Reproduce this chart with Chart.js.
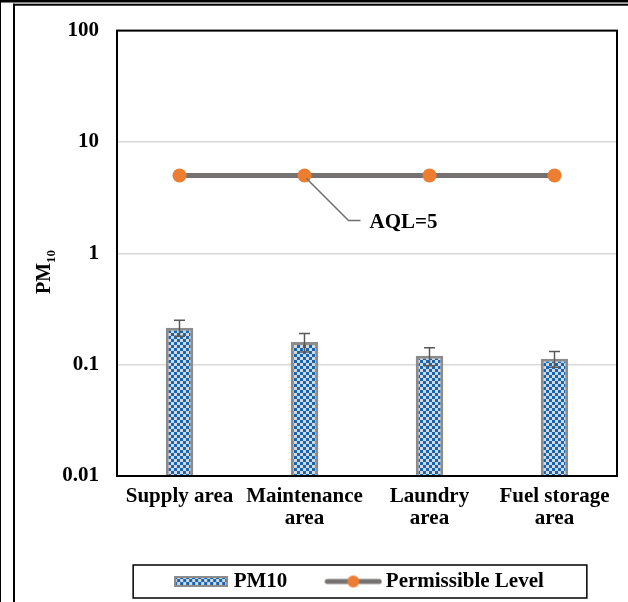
<!DOCTYPE html>
<html>
<head>
<meta charset="utf-8">
<script src="https://cdn.jsdelivr.net/npm/chart.js@4/dist/chart.umd.min.js"></script>
<style>
  html, body { margin: 0; padding: 0; background: #fff; }
  canvas { display: block; }
</style>
</head>
<body>
<canvas id="chart" width="628" height="602"></canvas>
<script>
// data
const categories = ['Supply area', ['Maintenance', 'area'], ['Laundry', 'area'], ['Fuel storage', 'area']];
const pm10Values = [0.215, 0.16, 0.12, 0.113];
const pm10Errors = [0.035, 0.03, 0.022, 0.018];
const permissibleLevel = [5, 5, 5, 5];
const yTickValues = [0.01, 0.1, 1, 10, 100];
const yTickLabels = ['0.01', '0.1', '1', '10', '100'];
const annotationText = 'AQL=5';

const FONT = "'Liberation Serif', 'Times New Roman', serif";
const BLUE = '#1565b5';
const LIGHT = '#d3d9df';
const BAR_EDGE = '#8c8c8c';
const LINE_GRAY = '#767171';
const ORANGE = '#ED7D31';

// checkerboard fill for the bars
function makeChecker() {
  const c = document.createElement('canvas');
  c.width = 6; c.height = 6;
  const g = c.getContext('2d');
  g.fillStyle = LIGHT; g.fillRect(0, 0, 6, 6);
  g.fillStyle = BLUE;
  g.fillRect(0, 0, 3, 3);
  g.fillRect(3, 3, 3, 3);
  return c;
}
const checkerTile = makeChecker();
const ctx = document.getElementById('chart').getContext('2d');
const checker = ctx.createPattern(checkerTile, 'repeat');

// legend swatches
function barSwatch() {
  const c = document.createElement('canvas');
  c.width = 54; c.height = 11;
  const g = c.getContext('2d');
  g.fillStyle = g.createPattern(checkerTile, 'repeat');
  g.fillRect(0, 0, 54, 11);
  g.strokeStyle = BAR_EDGE; g.lineWidth = 2;
  g.strokeRect(1, 1, 52, 9);
  return c;
}
function lineSwatch() {
  const c = document.createElement('canvas');
  c.width = 58; c.height = 16;
  const g = c.getContext('2d');
  g.strokeStyle = LINE_GRAY; g.lineWidth = 5; g.lineCap = 'round';
  g.beginPath(); g.moveTo(3, 8); g.lineTo(55, 8); g.stroke();
  g.fillStyle = ORANGE;
  g.beginPath(); g.arc(29, 8, 6, 0, Math.PI * 2); g.fill();
  return c;
}
const swatches = [barSwatch(), lineSwatch()];

Chart.defaults.font.family = FONT;
Chart.defaults.font.size = 21;
Chart.defaults.font.weight = 'bold';
Chart.defaults.color = '#000';

const LEGEND_SHIFT = 53;

const errorBars = {
  id: 'errorBars',
  afterDatasetsDraw(chart) {
    const y = chart.scales.y;
    const meta = chart.getDatasetMeta(0);
    const c = chart.ctx;
    c.save();
    c.strokeStyle = '#595959';
    c.lineWidth = 1.5;
    meta.data.forEach((bar, i) => {
      const top = y.getPixelForValue(pm10Values[i] + pm10Errors[i]);
      const bot = y.getPixelForValue(pm10Values[i] - pm10Errors[i]);
      c.beginPath();
      c.moveTo(bar.x, top); c.lineTo(bar.x, bot);
      c.moveTo(bar.x - 5.5, top); c.lineTo(bar.x + 5.5, top);
      c.moveTo(bar.x - 5.5, bot); c.lineTo(bar.x + 5.5, bot);
      c.stroke();
    });
    c.restore();
  }
};

const decorations = {
  id: 'decorations',
  afterLayout(chart) {
    // move the legend row to sit under the plot like the original
    const lg = chart.legend;
    lg.left += LEGEND_SHIFT;
    lg.right += LEGEND_SHIFT;
    (lg.legendHitBoxes || []).forEach(h => { h.left += LEGEND_SHIFT; });
  },
  afterDraw(chart) {
    const c = chart.ctx;
    const a = chart.chartArea;
    c.save();
    // plot frame
    c.strokeStyle = '#000';
    c.lineWidth = 2;
    c.strokeRect(a.left, a.top, a.right - a.left, a.bottom - a.top);

    // leader line + label to the second marker
    const p = chart.getDatasetMeta(1).data[1];
    c.strokeStyle = '#6e6e6e';
    c.lineWidth = 1.5;
    c.beginPath();
    c.moveTo(p.x + 2, p.y + 3);
    c.lineTo(p.x + 44, p.y + 45);
    c.lineTo(p.x + 56, p.y + 45);
    c.stroke();
    c.fillStyle = '#000';
    c.font = 'bold 21px ' + FONT;
    c.textAlign = 'left';
    c.textBaseline = 'middle';
    c.fillText(annotationText, p.x + 65, p.y + 47);

    // y axis title with subscript
    c.save();
    c.translate(50, 294);
    c.rotate(-Math.PI / 2);
    c.textBaseline = 'alphabetic';
    c.font = 'bold 20px ' + FONT;
    c.fillText('PM', 0, 0);
    const w = c.measureText('PM').width;
    c.font = 'bold 13px ' + FONT;
    c.fillText('10', w, 5);
    c.restore();

    // legend box
    const hb = chart.legend.legendHitBoxes;
    if (hb && hb.length) {
      const last = hb[hb.length - 1];
      const cy = hb[0].top + hb[0].height / 2;
      const x0 = hb[0].left - 46;
      const x1 = last.left + last.width + 43;
      c.strokeStyle = '#000';
      c.lineWidth = 1.5;
      c.strokeRect(x0, cy - 16.5, x1 - x0, 33);
    }

    // outer figure frame
    c.fillStyle = '#000';
    c.fillRect(0, 0, chart.width, 2.5);
    c.fillRect(13, 3.7, chart.width - 13, 2);
    c.fillRect(0, 0, 1, chart.height);
    c.fillRect(13, 3.7, 2, chart.height);
    c.restore();
  }
};

new Chart(ctx, {
  data: {
    labels: categories,
    datasets: [
      {
        type: 'bar',
        label: 'PM10',
        data: pm10Values,
        backgroundColor: checker,
        borderColor: BAR_EDGE,
        borderWidth: 3,
        barPercentage: 0.22,
        categoryPercentage: 1
      },
      {
        type: 'line',
        label: 'Permissible Level',
        data: permissibleLevel,
        borderColor: LINE_GRAY,
        borderWidth: 5,
        pointRadius: 7,
        pointHoverRadius: 7,
        pointBackgroundColor: ORANGE,
        pointBorderColor: ORANGE,
        pointBorderWidth: 0
      }
    ]
  },
  options: {
    responsive: false,
    animation: false,
    devicePixelRatio: 1,
    layout: { padding: { left: 0, top: 29, right: 11, bottom: 0 } },
    scales: {
      x: {
        grid: { display: false, drawTicks: false },
        border: { display: false },
        ticks: { padding: 10, maxRotation: 0, autoSkip: false, font: { size: 21, weight: 'bold', lineHeight: 1.05 } },
        afterFit(s) { s.height = 51; }
      },
      y: {
        type: 'logarithmic',
        min: 0.01,
        max: 100,
        grid: { color: '#d9d9d9', lineWidth: 1.5, drawTicks: false },
        border: { display: false },
        afterBuildTicks(s) { s.ticks = yTickValues.map(v => ({ value: v })); },
        ticks: {
          padding: 18,
          callback(v) {
            const i = yTickValues.indexOf(v);
            return i >= 0 ? yTickLabels[i] : '';
          }
        },
        afterFit(s) { s.width = 117; }
      }
    },
    plugins: {
      tooltip: { enabled: false },
      legend: {
        position: 'bottom',
        labels: {
          usePointStyle: true,
          pointStyleWidth: 44,
          boxHeight: 16,
          padding: 44,
          font: { size: 21, weight: 'bold' },
          generateLabels(chart) {
            const items = Chart.defaults.plugins.legend.labels.generateLabels(chart);
            items.forEach(it => { it.pointStyle = swatches[it.datasetIndex]; });
            return items;
          }
        }
      }
    }
  },
  plugins: [errorBars, decorations]
});
</script>
</body>
</html>
